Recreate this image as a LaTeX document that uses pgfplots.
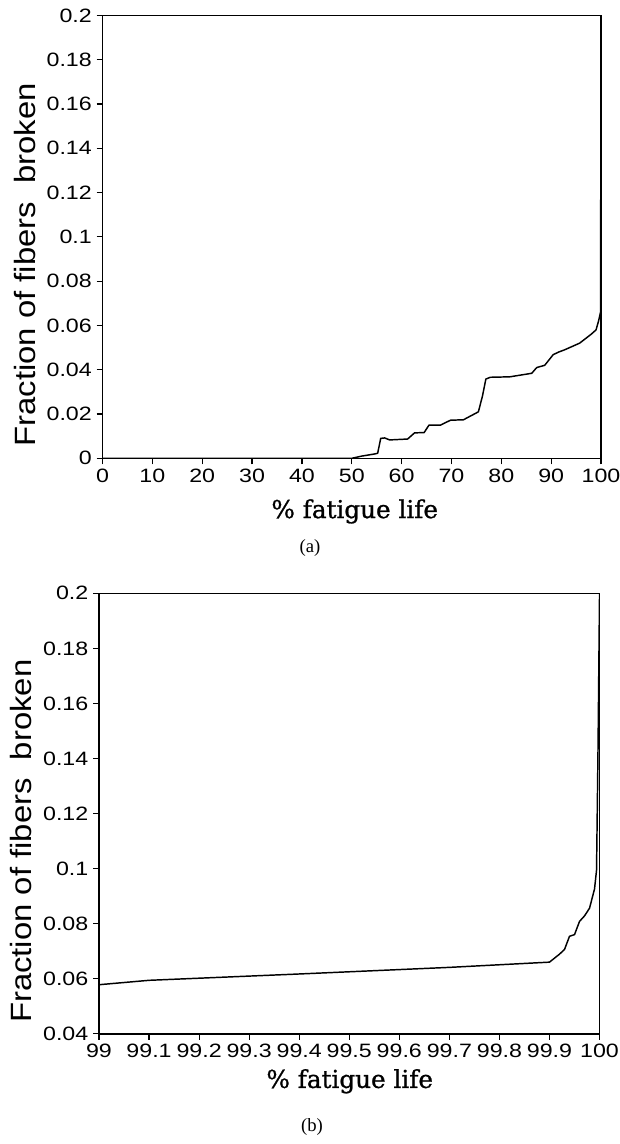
\documentclass[border=0pt]{standalone}
\usepackage{pgfplots}
\pgfplotsset{compat=1.18}
\usepackage{fontspec}
\setmainfont{Liberation Serif}
\newfontfamily\tickfont[FakeStretch=1.2]{Liberation Sans}
\newfontfamily\labfont[FakeStretch=1.12]{Liberation Sans}
\newfontfamily\xlabfont[FakeBold=1]{DejaVu Serif}

\pgfplotstableread{
x y
0 0
50 0
52 0.001
54.7 0.002
55.2 0.0023
55.8 0.009
56.6 0.0092
57.6 0.0083
61.2 0.0087
62.6 0.0115
64.5 0.0116
65.5 0.015
67.8 0.015
69.8 0.0172
72.4 0.0174
75.4 0.021
76.2 0.028
76.9 0.0358
77.8 0.0366
81.7 0.0368
86.1 0.0384
87.1 0.041
88.7 0.042
90.4 0.0468
91.5 0.048
92.7 0.049
95.7 0.052
98 0.056
99 0.058
99.5 0.062
99.9 0.066
100 0.2
}\dataA

\pgfplotstableread{
x y
99 0.0578
99.1 0.0594
99.4 0.0617
99.7 0.0641
99.9 0.066
99.92 0.0689
99.93 0.0706
99.94 0.0754
99.95 0.076
99.96 0.0808
99.97 0.0828
99.98 0.0856
99.99 0.0926
99.994 0.0994
99.997 0.144
100 0.2
}\dataB

\pgfplotsset{
  myax/.style={
    scale only axis,
    axis line style={line width=1.2pt},
    tick style={line width=0.9pt, black},
    tick align=outside,
    major tick length=4.5pt,
    xtick pos=bottom, ytick pos=left,
    tick label style={font=\tickfont\fontsize{14.5}{14.5}\selectfont},
    ylabel={Fraction of fibers\ \ broken},
    xlabel={\% fatigue life},
    ylabel style={font=\labfont\fontsize{22}{22}\selectfont, at={(axis description cs:-0.155,0.437)}, anchor=center},
    xlabel style={font=\xlabfont\fontsize{18.5}{18.5}\selectfont, anchor=center},
    scaled ticks=false,
  }
}

\begin{document}
\begin{tikzpicture}
\path[use as bounding box] (0pt,0pt) rectangle (464.25pt,-858pt);

\begin{axis}[myax,
  at={(76.875pt,-343.725pt)}, anchor=south west,
  width=373.9pt, height=332.1pt,
  xmin=0, xmax=100, ymin=0, ymax=0.2,
  xtick={0,10,20,30,40,50,60,70,80,90,100},
  xticklabels={0,10,20,30,40,50,60,70,80,90,100},
  ytick={0,0.02,0.04,0.06,0.08,0.1,0.12,0.14,0.16,0.18,0.2},
  yticklabels={0,0.02,0.04,0.06,0.08,0.1,0.12,0.14,0.16,0.18,0.2},
  xlabel style={at={(axis description cs:0.506,-0.12)}},
]
\addplot[black, line width=1.1pt, line join=round] table[x=x,y=y] {\dataA};
\end{axis}

\node[font=\rmfamily\fontsize{14}{14}\selectfont] at (232.5pt,-411pt) {(a)};

\begin{axis}[myax,
  at={(74.25pt,-775.275pt)}, anchor=south west,
  width=375.4pt, height=330.3pt,
  xmin=99, xmax=100, ymin=0.04, ymax=0.2,
  xtick={99,99.1,99.2,99.3,99.4,99.5,99.6,99.7,99.8,99.9,100},
  xticklabels={99,99.1,99.2,99.3,99.4,99.5,99.6,99.7,99.8,99.9,100},
  ytick={0.04,0.06,0.08,0.1,0.12,0.14,0.16,0.18,0.2},
  yticklabels={0.04,0.06,0.08,0.1,0.12,0.14,0.16,0.18,0.2},
  xlabel style={at={(axis description cs:0.501,-0.108)}},
]
\addplot[black, line width=1.1pt, line join=round] table[x=x,y=y] {\dataB};
\end{axis}

\node[font=\rmfamily\fontsize{14}{14}\selectfont] at (234pt,-845.25pt) {(b)};
\end{tikzpicture}
\end{document}
